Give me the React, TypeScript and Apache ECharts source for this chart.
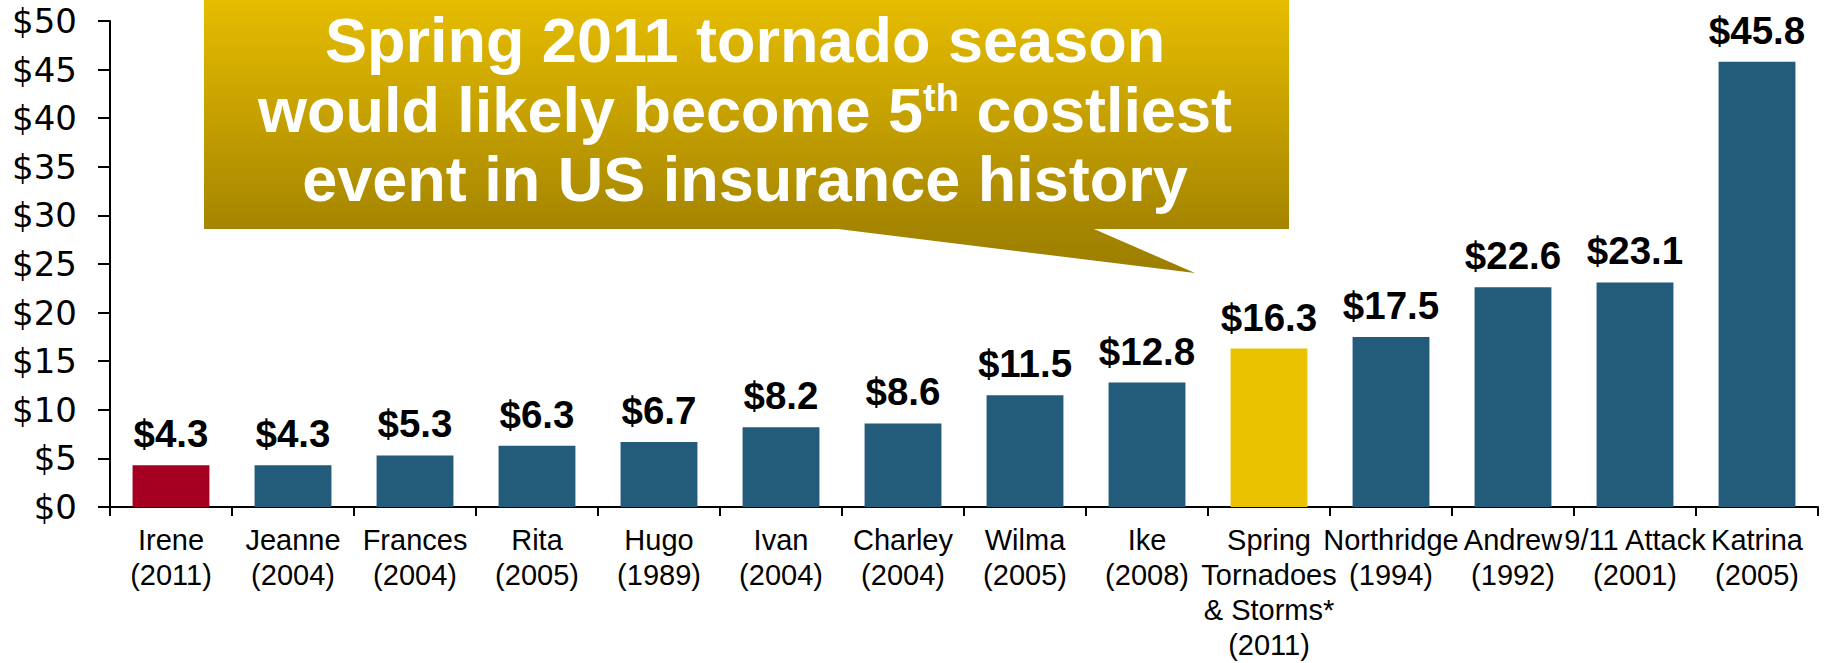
import React, { useEffect, useRef } from "react";
import * as echarts from "echarts";

// ---- data ----
const categories = [
  "Irene\n(2011)",
  "Jeanne\n(2004)",
  "Frances\n(2004)",
  "Rita\n(2005)",
  "Hugo\n(1989)",
  "Ivan\n(2004)",
  "Charley\n(2004)",
  "Wilma\n(2005)",
  "Ike\n(2008)",
  "Spring\nTornadoes\n& Storms*\n(2011)",
  "Northridge\n(1994)",
  "Andrew\n(1992)",
  "9/11 Attack\n(2001)",
  "Katrina\n(2005)",
];
const losses = [4.3, 4.3, 5.3, 6.3, 6.7, 8.2, 8.6, 11.5, 12.8, 16.3, 17.5, 22.6, 23.1, 45.8];
const yMin = 0;
const yMax = 50;
const yStep = 5;
const calloutLine1 = "Spring 2011 tornado season";
const calloutLine2a = "would likely become 5";
const calloutLine2sup = "th";
const calloutLine2b = " costliest";
const calloutLine3 = "event in US insurance history";

// ---- styles ----
const RED = "#A50021";
const BLUE = "#235B7A";
const GOLD = "#EBC200";
const redIndex = 0;
const goldIndex = 9;
const SANS = "'Liberation Sans', Arial, Helvetica, sans-serif";

export default function App() {
  const ref = useRef<HTMLDivElement>(null);

  useEffect(() => {
    if (!ref.current) return;
    const chart = echarts.init(ref.current, null, { renderer: "svg" });

    const calloutGradient = new echarts.graphic.LinearGradient(0, 0, 0, 1, [
      { offset: 0, color: "#E9BF00" },
      { offset: 0.83, color: "#A68600" },
      { offset: 1, color: "#9C7E00" },
    ]);

    const whiteBold = {
      fill: "#FFFFFF",
      fontFamily: SANS,
      fontWeight: "bold",
      fontSize: 63,
      align: "center",
      verticalAlign: "middle",
      textAlign: "center",
      textVerticalAlign: "middle",
    } as any;

    chart.setOption({
      animation: false,
      backgroundColor: "#FFFFFF",
      grid: { left: 110, right: 7, top: 21, bottom: 156, containLabel: false },
      xAxis: {
        type: "category",
        data: categories,
        boundaryGap: true,
        axisLine: { show: true, lineStyle: { color: "#000000", width: 2 } },
        axisTick: { show: true, length: 9, lineStyle: { color: "#000000", width: 2 } },
        axisLabel: {
          interval: 0,
          color: "#000000",
          fontFamily: SANS,
          fontSize: 29,
          lineHeight: 35,
          margin: 15,
        },
        splitLine: { show: false },
      },
      yAxis: {
        type: "value",
        min: yMin,
        max: yMax,
        interval: yStep,
        axisLine: { show: true, lineStyle: { color: "#000000", width: 2 } },
        axisTick: { show: true, length: 12, lineStyle: { color: "#000000", width: 2 } },
        axisLabel: {
          color: "#000000",
          fontFamily: "'DejaVu Sans', sans-serif",
          fontSize: 34,
          margin: 33,
          formatter: (v: number) => "$" + v,
        },
        splitLine: { show: false },
      },
      series: [
        {
          type: "bar",
          data: losses,
          barCategoryGap: "37%",
          itemStyle: {
            color: (p: any) =>
              p.dataIndex === redIndex ? RED : p.dataIndex === goldIndex ? GOLD : BLUE,
          },
          label: {
            show: true,
            position: "top",
            distance: 12,
            color: "#000000",
            fontFamily: SANS,
            fontWeight: "bold",
            fontSize: 38.5,
            formatter: (p: any) => "$" + Number(p.value).toFixed(1),
          },
        },
      ],
      graphic: [
        {
          type: "polygon",
          z: 100,
          shape: {
            points: [
              [204, -10],
              [1289, -10],
              [1289, 229],
              [1094, 229],
              [1195, 273],
              [838, 229],
              [204, 229],
            ],
          },
          style: { fill: calloutGradient },
        },
        {
          type: "text",
          z: 101,
          x: 745,
          y: 40,
          style: { ...whiteBold, text: calloutLine1 },
        },
        {
          type: "text",
          z: 101,
          x: 745,
          y: 110,
          style: {
            ...whiteBold,
            text: `{n|${calloutLine2a}}{s|${calloutLine2sup}}{n|${calloutLine2b}}`,
            rich: {
              n: {
                fill: "#FFFFFF",
                color: "#FFFFFF",
                fontFamily: SANS,
                fontWeight: "bold",
                fontSize: 63,
                lineHeight: 63,
              },
              s: {
                fill: "#FFFFFF",
                color: "#FFFFFF",
                fontFamily: SANS,
                fontWeight: "bold",
                fontSize: 38,
                lineHeight: 38,
                verticalAlign: "top",
              },
            },
          },
        },
        {
          type: "text",
          z: 101,
          x: 745,
          y: 179,
          style: { ...whiteBold, text: calloutLine3 },
        },
      ],
    });

    return () => chart.dispose();
  }, []);

  return (
    <div
      ref={ref}
      style={{ position: "absolute", left: 0, top: 0, width: 1825, height: 663 }}
    />
  );
}
